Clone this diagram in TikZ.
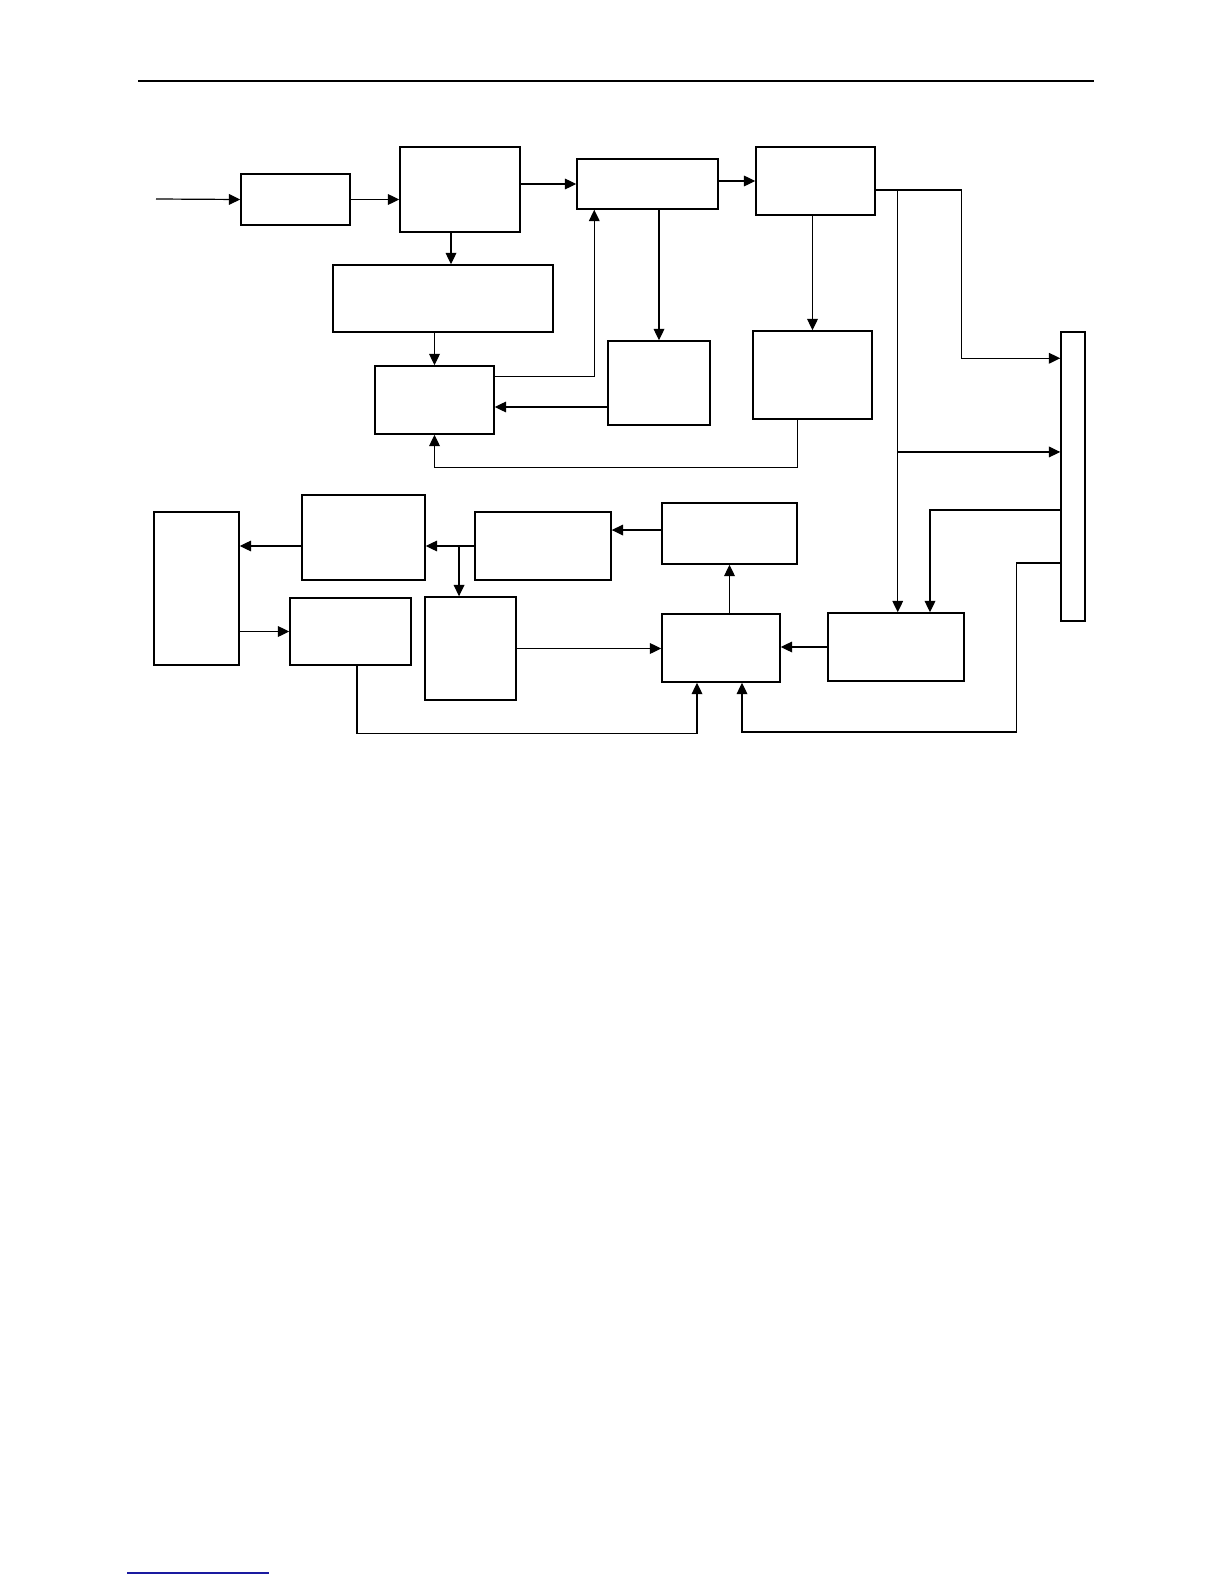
\documentclass[tikz,border=0pt]{standalone}
\usepackage{tikz}
\usetikzlibrary{arrows.meta,positioning,calc}
\definecolor{linkBlue}{HTML}{1A1AA0}

\begin{document}
\begin{tikzpicture}[
  x=0.75pt, y=-0.75pt,
  blk/.style={draw,line width=1.1pt,inner sep=0pt},
  sz/.style 2 args={minimum width=#1*0.75pt,minimum height=#2*0.75pt},
  flow/.style={-{Triangle[length=8.5pt,width=8pt]},line width=0.9pt},
  wire/.style={line width=0.9pt}
]
  \useasboundingbox (0,0) rectangle (1224,1584);
  \draw[line width=1.5pt] (138,81) -- (1094,81);
  \draw[linkBlue,line width=0.8pt] (127,1573) -- (269,1573);

  % upper chain
  \node[blk,sz={109}{51}] (A) at (295.5,199.5) {};
  \node[blk,sz={120}{85}] (B) at (460,189.5) {};
  \node[blk,sz={141}{50}] (C) at (647.5,184) {};
  \node[blk,sz={119}{68}] (D) at (815.5,181) {};
  \node[blk,sz={220}{67}] (E) at (443,298.5) {};
  \node[blk,sz={119}{68}] (F) at (434.5,400) {};
  \node[blk,sz={102}{84}] (G) at (659,383) {};
  \node[blk,sz={119}{88}] (H) at (812.5,375) {};
  \node[blk,sz={24}{289}] (bus) at (1073,476.5) {};
  % lower chain
  \node[blk,sz={136}{68}] (J) at (896,647) {};
  \node[blk,sz={118}{68}] (K) at (721,648) {};
  \node[blk,sz={135}{61}] (L) at (729.5,533.5) {};
  \node[blk,sz={136}{68}] (M) at (543,546) {};
  \node[blk,sz={123}{85}] (N) at (363.5,537.5) {};
  \node[blk,sz={91}{103}] (O) at (470.5,648.5) {};
  \node[blk,sz={85}{153}] (P) at (196.5,588.5) {};
  \node[blk,sz={121}{67}] (Q) at (350.5,631.5) {};

  \coordinate (in) at (156,199);
  \draw[flow] (in) -- (A.west);
  \draw[flow] (A.east) -- (A.east -| B.west);
  \draw[flow] (C.west -| B.east) -- (C.west);
  \draw[flow] (D.west -| C.east) -- (D.west);
  \path ([xshift=-6.75pt]B.south) coordinate (be);
  \draw[flow] (be) -- (be |- E.north);
  \draw[flow] (F.north |- E.south) -- (F.north);
  \draw[flow] ([yshift=-8.25pt]F.north east) -| ([xshift=13.5pt]C.south west);
  \draw[flow] (G.north |- C.south) -- (G.north);
  \path ([yshift=-18pt]G.west) coordinate (gf);
  \draw[flow] (gf) -- (gf -| F.east);
  \draw[flow] (H.north |- D.south) -- (H.north);
  \draw[flow] ([xshift=-11.5pt]H.south) -- ++(0,48) -| (F.south);

  % outputs to the bus
  \path ([yshift=-6.75pt]D.east) coordinate (dout)
        ([xshift=16.5pt]dout) coordinate (tap);
  \draw[wire] (dout) -- ++(86,0) coordinate (dcorner);
  \draw[flow] (dcorner) |- ([yshift=-20.25pt]bus.north west);
  \draw[flow] (tap) -- (tap |- J.north);
  \path ([yshift=18.4pt]bus.west) coordinate (b2);
  \draw[flow] (tap |- b2) -- (b2);
  \draw[flow] ([yshift=-25.1pt]bus.west) -| ([xshift=25.5pt]J.north);
  \draw[flow] ([yshift=-64.9pt]bus.west) -- ++(-44,0) -- ++(0,169) -| ([xshift=15.75pt]K.south);

  % lower connections
  \draw[flow] (J.west) -- (J.west -| K.east);
  \draw[flow] (L.south |- K.north) -- (L.south);
  \draw[flow] ([yshift=2.6pt]L.west) -- ([yshift=2.6pt]L.west -| M.east);
  \draw[flow] (M.west) -- (M.west -| N.east);
  \path ([xshift=-8.6pt]O.north) coordinate (ot);
  \draw[flow] (ot |- M.west) -- (ot);
  \draw[flow] (M.west -| N.west) -- (M.west -| P.east);
  \draw[flow] (Q.west -| P.east) -- (Q.west);
  \draw[flow] (O.east) -- (O.east -| K.west);
  \draw[flow] ([xshift=4.9pt]Q.south) -- ++(0,68) -| ([xshift=-18pt]K.south);
\end{tikzpicture}
\end{document}
